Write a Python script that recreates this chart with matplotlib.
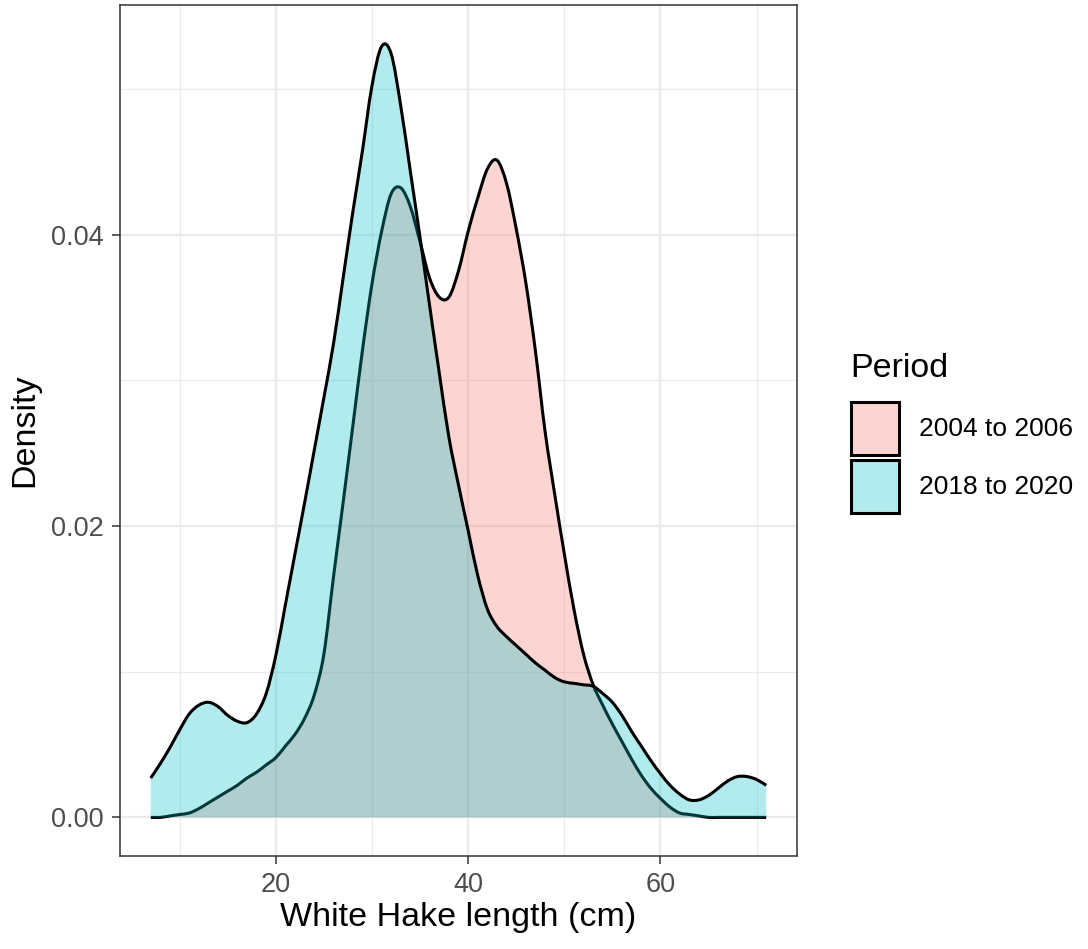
import matplotlib
matplotlib.use('Agg')
import numpy as np
import matplotlib.pyplot as plt
from matplotlib.path import Path
from matplotlib.patches import PathPatch, Rectangle

plt.rcParams['font.family'] = ['Liberation Sans', 'DejaVu Sans']

# density estimates on a 1 cm grid
length_cm = list(range(7, 72))

density_2004_2006 = [
    0.0000, 0.0000, 0.0001, 0.0002, 0.0003, 0.0006, 0.0010, 0.0014, 0.0018, 0.0022,   # 7-16
    0.0027, 0.0031, 0.0036, 0.0041, 0.0049, 0.0057, 0.0068, 0.0084, 0.0112, 0.0165,   # 17-26
    0.0216, 0.0268, 0.0320, 0.0366, 0.0402, 0.0428, 0.0432, 0.0419, 0.0395, 0.0370,   # 27-36
    0.0357, 0.0357, 0.0375, 0.0402, 0.0425, 0.0445, 0.0451, 0.0435, 0.0404, 0.0367,   # 37-46
    0.0320, 0.0265, 0.0222, 0.0181, 0.0143, 0.0112, 0.0091, 0.0077, 0.0064, 0.0052,   # 47-56
    0.0040, 0.0029, 0.0020, 0.0013, 0.0007, 0.0003, 0.0002, 0.0001, 0.0000, 0.0000,   # 57-66
    0.0000, 0.0000, 0.0000, 0.0000, 0.0000,                                           # 67-71
]

density_2018_2020 = [
    0.0027, 0.0037, 0.0048, 0.0060, 0.0071, 0.0077, 0.0079, 0.0076, 0.0070, 0.0066,   # 7-16
    0.0065, 0.0071, 0.0085, 0.0111, 0.0146, 0.0181, 0.0216, 0.0252, 0.0288, 0.0325,   # 17-26
    0.0370, 0.0415, 0.0457, 0.0502, 0.0529, 0.0524, 0.0488, 0.0443, 0.0398, 0.0351,   # 27-36
    0.0305, 0.0261, 0.0228, 0.0197, 0.0166, 0.0143, 0.0131, 0.0124, 0.0118, 0.0112,   # 37-46
    0.0106, 0.0101, 0.0096, 0.0093, 0.0092, 0.0091, 0.0090, 0.0085, 0.0079, 0.0070,   # 47-56
    0.0059, 0.0049, 0.0039, 0.0030, 0.0022, 0.0016, 0.0012, 0.0012, 0.0015, 0.0020,   # 57-66
    0.0025, 0.0028, 0.0028, 0.0026, 0.0022,                                           # 67-71
]

periods = ['2004 to 2006', '2018 to 2020']
series = [density_2004_2006, density_2018_2020]
colors = ['#F8766D', '#00BFC4']
alpha = 0.3


def smooth_curve(x, y):
    """Catmull-Rom segments through (x, y) as cubic Bezier vertices and codes."""
    pts = np.column_stack([x, y]).astype(float)
    n = len(pts)
    verts = [pts[0]]
    codes = [Path.MOVETO]
    for i in range(n - 1):
        p0 = pts[max(i - 1, 0)]
        p1 = pts[i]
        p2 = pts[i + 1]
        p3 = pts[min(i + 2, n - 1)]
        verts += [p1 + (p2 - p0) / 6, p2 - (p3 - p1) / 6, p2]
        codes += [Path.CURVE4] * 3
    return verts, codes


W, H = 1088, 949
fig = plt.figure(figsize=(W / 100, H / 100), dpi=100)
ax = fig.add_axes([120 / W, 1 - 856 / H, (797 - 120) / W, (856 - 5) / H])

# each group: filled area then its upper outline, second group drawn over the first
for k, (dens, col) in enumerate(zip(series, colors)):
    verts, codes = smooth_curve(length_cm, dens)
    area_verts = verts + [(length_cm[-1], 0), (length_cm[0], 0), verts[0]]
    area_codes = codes + [Path.LINETO, Path.LINETO, Path.CLOSEPOLY]
    ax.add_patch(PathPatch(Path(area_verts, area_codes), facecolor=col, alpha=alpha,
                           edgecolor='none', zorder=2 + 2 * k))
    ax.add_patch(PathPatch(Path(verts, codes), facecolor='none', edgecolor='black',
                           lw=2.2, capstyle='butt', joinstyle='round', zorder=3 + 2 * k))

ax.set_xlim(3.8, 74.2)
ax.set_ylim(-0.00265, 0.05575)

ax.set_xticks([20, 40, 60])
ax.set_xticks([10, 30, 50, 70], minor=True)
ax.set_yticks([0, 0.02, 0.04])
ax.set_yticklabels(['0.00', '0.02', '0.04'])
ax.set_yticks([0.01, 0.03, 0.05], minor=True)

ax.set_axisbelow(True)
ax.grid(which='major', color='#EBEBEB', lw=1.7)
ax.grid(which='minor', color='#EBEBEB', lw=0.9)

for sp in ax.spines.values():
    sp.set_color('#333333')
    sp.set_linewidth(1.1)
    sp.set_zorder(10)

ax.tick_params(which='major', length=5.5, width=1.1, color='#333333',
               labelcolor='#4D4D4D', labelsize=19.5, pad=6)
ax.tick_params(which='minor', length=0)

ax.set_xlabel('White Hake length (cm)', fontsize=24.5, labelpad=3)
ax.set_ylabel('Density', fontsize=24.5, labelpad=8)

# legend
fig.text(850 / W, 1 - 377 / H, 'Period', fontsize=24.5, ha='left', va='baseline')
key_tops = [401, 459]
for top, col, lab in zip(key_tops, colors, periods):
    fig.add_artist(Rectangle((851 / W, 1 - (top + 54) / H), 48 / W, 53 / H,
                             transform=fig.transFigure, facecolor=col, alpha=alpha,
                             edgecolor='none'))
    fig.add_artist(Rectangle((851 / W, 1 - (top + 54) / H), 48 / W, 53 / H,
                             transform=fig.transFigure, facecolor='none',
                             edgecolor='black', lw=2.2))
    fig.text(919 / W, 1 - (top + 28) / H, lab, fontsize=19, ha='left', va='center')

fig.savefig('out.png', dpi=100)
